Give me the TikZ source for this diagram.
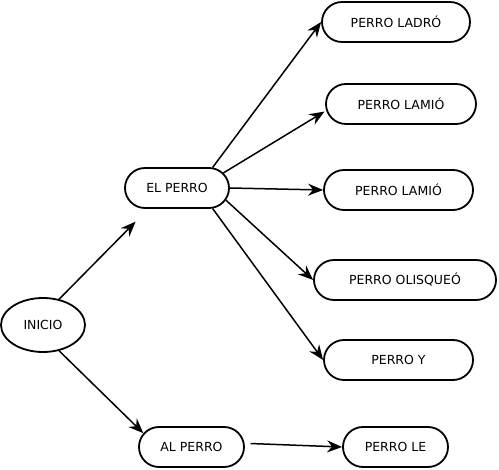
\documentclass[tikz,border=0pt]{standalone}
\usepackage{fontspec}
\setmainfont{DejaVu Sans}
\usetikzlibrary{shapes.geometric,shapes.misc,arrows.meta}
\begin{document}
\begin{tikzpicture}[x=1pt,y=-1pt,
 every node/.style={font=\fontsize{12.5}{15}\selectfont},
 box/.style={draw, line width=1.8pt, rounded rectangle, minimum height=40pt, inner sep=0pt},
 oval/.style={draw, line width=1.8pt, ellipse, minimum width=84pt, minimum height=54pt, inner sep=0pt},
 arr/.style={line width=1.5pt, -{Stealth[length=15pt,width=12pt,inset=5pt]}}]
\useasboundingbox (0,0) rectangle (499,470);
\node[oval] (inicio) at (43,325) {INICIO};
\node[box, minimum width=104pt] (elperro) at (177,188) {EL PERRO};
\node[box, minimum width=105pt] (alperro) at (191.5,447) {AL PERRO};
\node[box, minimum width=148pt] (ladro) at (396,22) {PERRO LADRÓ};
\node[box, minimum width=150pt] (lamio1) at (401,104) {PERRO LAMIÓ};
\node[box, minimum width=149pt] (lamio2) at (398.5,190) {PERRO LAMIÓ};
\node[box, minimum width=182pt] (olisqueo) at (405,280) {PERRO OLISQUEÓ};
\node[box, minimum width=149pt] (perroy) at (398.5,360) {PERRO Y};
\node[box, minimum width=105pt] (perrole) at (395.5,447) {PERRO LE};
\draw[arr, shorten >=18pt] (inicio.58) -- (elperro.216);
\draw[arr] (inicio.-58) -- (alperro.164);
\draw[arr] (elperro.30) -- (ladro.west);
\draw[arr, shorten >=2pt] (elperro.18) -- (lamio1.185);
\draw[arr] (elperro.east) -- (lamio2.west);
\draw[arr] (elperro.-14) -- (olisqueo.west);
\draw[arr] (elperro.-30) -- (perroy.west);
\draw[arr, shorten <=6pt] (alperro.4) -- (perrole.west);
\end{tikzpicture}
\end{document}
